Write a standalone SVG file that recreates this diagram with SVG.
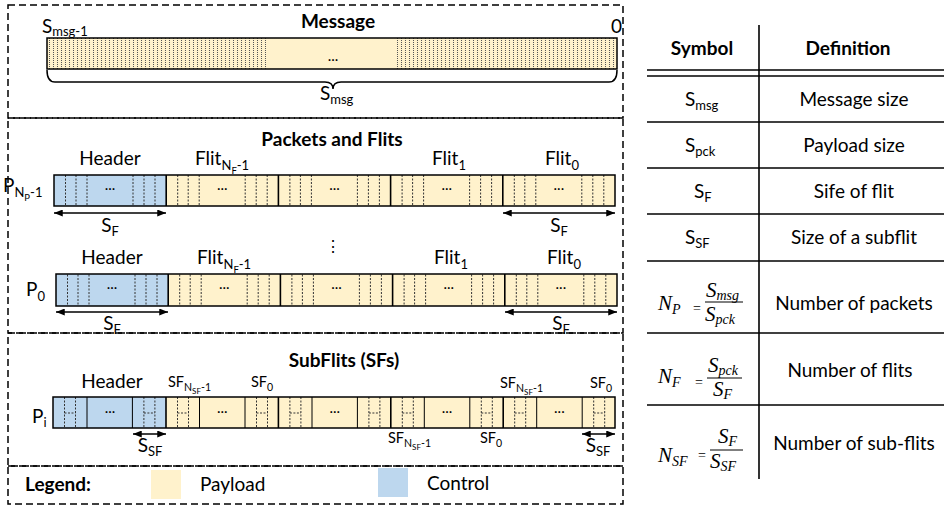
<svg xmlns="http://www.w3.org/2000/svg" xmlns:xlink="http://www.w3.org/1999/xlink" width="944" height="509" viewBox="0 0 944 509">
<style>
text{font-family:Lato,"Noto Sans",sans-serif;fill:#000}
.t{font-size:19px}
.b{font-size:19px;font-weight:bold}
.s{font-size:13px}
.ss{font-size:9.5px}
.sm{font-size:14.5px}
.sms{font-size:10.5px}
.sms2{font-size:8px}
.dots{font-size:15px;text-anchor:middle}
.mid{text-anchor:middle}
.panel{fill:none;stroke:#000;stroke-width:1.5;stroke-dasharray:7,4}
.pay{fill:#FFF2CC}
.ctl{fill:#BDD7EE}
.edge{fill:none;stroke:#000;stroke-width:1.5}
.thin{fill:none;stroke:#000;stroke-width:1}
.dl{stroke:#333;stroke-width:1;stroke-dasharray:2,1.5;fill:none}
.arr{stroke:#000;stroke-width:1.5;marker-start:url(#ah);marker-end:url(#ah)}
.tl{stroke:#000;stroke-width:1.6}
.m{font-family:"Liberation Serif","Times New Roman",serif;font-style:italic}
.mN{font-size:21px}
.mS{font-size:14px}
.meq{font-family:"Liberation Serif",serif;font-size:14px}
</style>
<defs>
<pattern id="hatch" width="4" height="4" patternUnits="userSpaceOnUse">
<line x1="1.5" y1="0" x2="1.5" y2="4" stroke="#555" stroke-width="1" stroke-dasharray="1,1"/>
</pattern>
<marker id="ah" viewBox="0 0 10 8" refX="10" refY="4" markerWidth="9" markerHeight="7" orient="auto-start-reverse" markerUnits="userSpaceOnUse">
<path d="M0,0 L10,4 L0,8 z" fill="#000"/>
</marker>
<g id="fd">
<line class="dl" x1="11.5" y1="0" x2="11.5" y2="31"/>
<line class="dl" x1="22" y1="0" x2="22" y2="31"/>
<line class="dl" x1="33" y1="0" x2="33" y2="31"/>
<line class="dl" x1="79" y1="0" x2="79" y2="31"/>
<line class="dl" x1="90" y1="0" x2="90" y2="31"/>
<line class="dl" x1="101" y1="0" x2="101" y2="31"/>
</g>
<g id="sfd">
<line class="dl" x1="11.5" y1="0" x2="11.5" y2="31"/>
<line class="dl" x1="22.5" y1="0" x2="22.5" y2="31"/>
<line class="dl" x1="11.5" y1="16" x2="22.5" y2="16"/>
</g>
</defs>

<g id="panel-message">
<rect class="panel" x="8" y="5" width="615" height="113"/>
<text class="b mid" x="338" y="28">Message</text>
<rect class="pay" x="47" y="38" width="570" height="31"/>
<rect x="47" y="38" width="222" height="31" fill="url(#hatch)"/>
<rect x="396" y="38" width="221" height="31" fill="url(#hatch)"/>
<rect class="edge" x="47" y="38" width="570" height="31"/>
<text class="dots" x="333" y="61">...</text>
<path class="edge" d="M47,70 Q47,82 55,82 L325,82 Q333,82 333,89 Q333,82 341,82 L609,82 Q617,82 617,70"/>
<text class="t" x="42" y="33">S<tspan class="s" dy="3">msg-1</tspan></text>
<text class="t" x="611" y="33">0</text>
<text class="t" x="320" y="100">S<tspan class="s" dy="4">msg</tspan></text>
</g>

<g id="panel-packets">
<rect class="panel" x="8" y="118" width="615" height="215"/>
<text class="b mid" x="332" y="146">Packets and Flits</text>
</g>

<g id="packet-row-top">
<rect class="ctl" x="54" y="175" width="112.2" height="31"/>
<rect class="pay" x="166.2" y="175" width="448.8" height="31"/>
<use xlink:href="#fd" href="#fd" x="54" y="175"/>
<use xlink:href="#fd" href="#fd" x="166.2" y="175"/>
<use xlink:href="#fd" href="#fd" x="278.4" y="175"/>
<use xlink:href="#fd" href="#fd" x="390.6" y="175"/>
<use xlink:href="#fd" href="#fd" x="502.8" y="175"/>
<rect class="edge" x="54" y="175" width="561" height="31"/>
<line class="tl" x1="166.2" y1="175" x2="166.2" y2="206"/>
<line class="tl" x1="278.4" y1="175" x2="278.4" y2="206"/>
<line class="tl" x1="390.6" y1="175" x2="390.6" y2="206"/>
<line class="tl" x1="502.8" y1="175" x2="502.8" y2="206"/>
<text class="dots" x="110" y="190">...</text>
<text class="dots" x="222.3" y="190">...</text>
<text class="dots" x="334.5" y="190">...</text>
<text class="dots" x="446.7" y="190">...</text>
<text class="dots" x="558.9" y="190">...</text>
<text class="t mid" x="110" y="165">Header</text>
<text class="t" x="195" y="165">Flit<tspan class="s" dy="5">N</tspan><tspan class="ss" dy="4">F</tspan><tspan class="s" dy="-4">-1</tspan></text>
<text class="t" x="432" y="165">Flit<tspan class="s" dy="5">1</tspan></text>
<text class="t" x="545" y="165">Flit<tspan class="s" dy="5">0</tspan></text>
<text class="t" x="3" y="192">P<tspan class="s" dy="5">N</tspan><tspan class="ss" dy="4">P</tspan><tspan class="s" dy="-4">-1</tspan></text>
<text class="t mid" x="110" y="232">S<tspan class="s" dy="4">F</tspan></text>
<text class="t mid" x="559" y="232">S<tspan class="s" dy="4">F</tspan></text>
</g>

<g id="vellipsis">
<text x="333" y="252" font-family="DejaVu Sans" font-size="16" text-anchor="middle">⋮</text>
</g>

<g id="packet-row-bottom">
<rect class="ctl" x="56" y="274" width="112.2" height="32"/>
<rect class="pay" x="168.2" y="274" width="448.8" height="32"/>
<use xlink:href="#fd" href="#fd" x="56" y="274.5"/>
<use xlink:href="#fd" href="#fd" x="168.2" y="274.5"/>
<use xlink:href="#fd" href="#fd" x="280.4" y="274.5"/>
<use xlink:href="#fd" href="#fd" x="392.6" y="274.5"/>
<use xlink:href="#fd" href="#fd" x="504.8" y="274.5"/>
<rect class="edge" x="56" y="274" width="561" height="32"/>
<line class="tl" x1="168.2" y1="274" x2="168.2" y2="306"/>
<line class="tl" x1="280.4" y1="274" x2="280.4" y2="306"/>
<line class="tl" x1="392.6" y1="274" x2="392.6" y2="306"/>
<line class="tl" x1="504.8" y1="274" x2="504.8" y2="306"/>
<text class="dots" x="112" y="289">...</text>
<text class="dots" x="224.3" y="289">...</text>
<text class="dots" x="336.5" y="289">...</text>
<text class="dots" x="448.7" y="289">...</text>
<text class="dots" x="560.9" y="289">...</text>
<text class="t mid" x="112" y="264">Header</text>
<text class="t" x="197" y="264">Flit<tspan class="s" dy="5">N</tspan><tspan class="ss" dy="4">F</tspan><tspan class="s" dy="-4">-1</tspan></text>
<text class="t" x="434" y="264">Flit<tspan class="s" dy="5">1</tspan></text>
<text class="t" x="547" y="264">Flit<tspan class="s" dy="5">0</tspan></text>
<text class="t" x="26" y="296">P<tspan class="s" dy="5">0</tspan></text>
<text class="t mid" x="112" y="330">S<tspan class="s" dy="4">F</tspan></text>
<text class="t mid" x="561" y="330">S<tspan class="s" dy="4">F</tspan></text>
</g>

<g id="panel-subflits">
<rect class="panel" x="8" y="333" width="615" height="133"/>
<text class="b mid" x="344" y="367">SubFlits (SFs)</text>
</g>

<g id="subflit-row">
<rect class="ctl" x="53" y="397" width="113" height="31"/>
<rect class="pay" x="166" y="397" width="449" height="31"/>
<use xlink:href="#sfd" href="#sfd" x="53" y="397"/>
<use xlink:href="#sfd" href="#sfd" x="132.4" y="397"/>
<use xlink:href="#sfd" href="#sfd" x="166" y="397"/>
<use xlink:href="#sfd" href="#sfd" x="245" y="397"/>
<use xlink:href="#sfd" href="#sfd" x="278.4" y="397"/>
<use xlink:href="#sfd" href="#sfd" x="357.4" y="397"/>
<use xlink:href="#sfd" href="#sfd" x="390.8" y="397"/>
<use xlink:href="#sfd" href="#sfd" x="469.8" y="397"/>
<use xlink:href="#sfd" href="#sfd" x="503.2" y="397"/>
<use xlink:href="#sfd" href="#sfd" x="582.2" y="397"/>
<rect class="edge" x="53" y="397" width="562" height="31"/>
<line class="thin" x1="87" y1="397" x2="87" y2="428"/>
<line class="thin" x1="132.4" y1="397" x2="132.4" y2="428"/>
<line class="tl" x1="166" y1="397" x2="166" y2="428"/>
<line class="thin" x1="199.5" y1="397" x2="199.5" y2="428"/>
<line class="thin" x1="245" y1="397" x2="245" y2="428"/>
<line class="tl" x1="278.4" y1="397" x2="278.4" y2="428"/>
<line class="thin" x1="312" y1="397" x2="312" y2="428"/>
<line class="thin" x1="357.4" y1="397" x2="357.4" y2="428"/>
<line class="tl" x1="390.8" y1="397" x2="390.8" y2="428"/>
<line class="thin" x1="424.3" y1="397" x2="424.3" y2="428"/>
<line class="thin" x1="469.8" y1="397" x2="469.8" y2="428"/>
<line class="tl" x1="503.2" y1="397" x2="503.2" y2="428"/>
<line class="thin" x1="536.7" y1="397" x2="536.7" y2="428"/>
<line class="thin" x1="582.2" y1="397" x2="582.2" y2="428"/>
<text class="dots" x="110" y="413">...</text>
<text class="dots" x="222.3" y="413">...</text>
<text class="dots" x="334.7" y="413">...</text>
<text class="dots" x="447" y="413">...</text>
<text class="dots" x="559.4" y="413">...</text>
<text class="t mid" x="112" y="388">Header</text>
<text class="sm" x="168" y="387">SF<tspan class="sms" dy="4">N</tspan><tspan class="sms2" dy="3">SF</tspan><tspan class="sms" dy="-3">-1</tspan></text>
<text class="sm" x="251" y="387">SF<tspan class="sms" dy="4">0</tspan></text>
<text class="sm" x="500" y="388">SF<tspan class="sms" dy="4">N</tspan><tspan class="sms2" dy="3">SF</tspan><tspan class="sms" dy="-3">-1</tspan></text>
<text class="sm" x="590" y="388">SF<tspan class="sms" dy="4">0</tspan></text>
<text class="sm" x="388" y="443">SF<tspan class="sms" dy="4">N</tspan><tspan class="sms2" dy="3">SF</tspan><tspan class="sms" dy="-3">-1</tspan></text>
<text class="sm" x="480" y="443">SF<tspan class="sms" dy="4">0</tspan></text>
<text class="t" x="32" y="423">P<tspan class="s" dy="4">i</tspan></text>
<text class="t mid" x="150" y="452">S<tspan class="s" dy="4">SF</tspan></text>
<text class="t mid" x="598" y="452">S<tspan class="s" dy="4">SF</tspan></text>
</g>

<g id="panel-legend">
<rect class="panel" x="8" y="466" width="615" height="38"/>
<text class="b" x="25" y="491">Legend:</text>
<rect class="pay" x="151" y="470" width="30" height="29"/>
<text class="t" x="200" y="491">Payload</text>
<rect class="ctl" x="378" y="468" width="30" height="29"/>
<text class="t" x="427" y="490">Control</text>
</g>

<g id="connectors">
<line class="arr" x1="54" y1="213" x2="166" y2="213"/>
<line class="arr" x1="503" y1="213" x2="615" y2="213"/>
<line class="arr" x1="56" y1="312" x2="168" y2="312"/>
<line class="arr" x1="505" y1="312" x2="617" y2="312"/>
<line class="arr" x1="133" y1="434" x2="166" y2="434"/>
<line class="arr" x1="582" y1="434" x2="615" y2="434"/>
</g>

<g id="table">
<line class="tl" x1="759" y1="25" x2="759" y2="479"/>
<line class="tl" x1="647" y1="70" x2="944" y2="70"/>
<line class="tl" x1="647" y1="76" x2="944" y2="76"/>
<line class="tl" x1="647" y1="122" x2="944" y2="122"/>
<line class="tl" x1="647" y1="168" x2="944" y2="168"/>
<line class="tl" x1="647" y1="214" x2="944" y2="214"/>
<line class="tl" x1="647" y1="261" x2="944" y2="261"/>
<line class="tl" x1="647" y1="333" x2="944" y2="333"/>
<line class="tl" x1="647" y1="405" x2="944" y2="405"/>
<text class="b mid" x="702" y="55">Symbol</text>
<text class="b mid" x="848" y="55">Definition</text>
<text class="t" x="685" y="106">S<tspan class="s" dy="4">msg</tspan></text>
<text class="t mid" x="854" y="106">Message size</text>
<text class="t" x="685" y="152">S<tspan class="s" dy="4">pck</tspan></text>
<text class="t mid" x="854" y="152">Payload size</text>
<text class="t" x="694" y="198">S<tspan class="s" dy="4">F</tspan></text>
<text class="t mid" x="854" y="198">Sife of flit</text>
<text class="t" x="685" y="244">S<tspan class="s" dy="4">SF</tspan></text>
<text class="t mid" x="854" y="244">Size of a subflit</text>

<text class="m mN" x="658" y="310">N<tspan class="mS" dy="4">P</tspan></text>
<text class="meq" x="693" y="313">=</text>
<line x1="705" y1="302" x2="743" y2="302" stroke="#000" stroke-width="1"/>
<text class="m mN" x="706" y="297">S<tspan class="mS" dy="3">msg</tspan></text>
<text class="m mN" x="705" y="321">S<tspan class="mS" dy="3">pck</tspan></text>
<text class="t mid" x="854" y="310">Number of packets</text>

<text class="m mN" x="658" y="383">N<tspan class="mS" dy="4">F</tspan></text>
<text class="meq" x="695" y="387">=</text>
<line x1="707" y1="378" x2="742" y2="378" stroke="#000" stroke-width="1"/>
<text class="m mN" x="708" y="372">S<tspan class="mS" dy="3">pck</tspan></text>
<text class="m mN" x="713" y="396">S<tspan class="mS" dy="3">F</tspan></text>
<text class="t mid" x="850" y="377">Number of flits</text>

<text class="m mN" x="658" y="462">N<tspan class="mS" dy="4">SF</tspan></text>
<text class="meq" x="698" y="460">=</text>
<line x1="710" y1="450" x2="743" y2="450" stroke="#000" stroke-width="1"/>
<text class="m mN" x="718" y="443">S<tspan class="mS" dy="3">F</tspan></text>
<text class="m mN" x="710" y="468">S<tspan class="mS" dy="3">SF</tspan></text>
<text class="t mid" x="854" y="450">Number of sub-flits</text>
</g>
</svg>
